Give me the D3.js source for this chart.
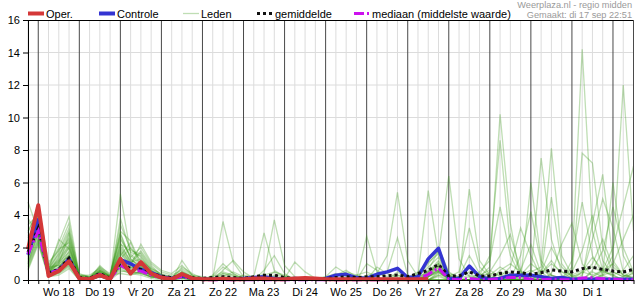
<!DOCTYPE html>
<html>
<head>
<meta charset="utf-8">
<script src="https://cdn.jsdelivr.net/npm/d3@7"></script>
<style>
body { margin: 0; background: #fff; }
svg { display: block; font-family: "Liberation Sans", Arial, sans-serif; }
</style>
</head>
<body>
<svg id="chart" width="635" height="300"></svg>
<script>
// 6-hourly values, from di 17 sep 18:00 to wo 2 okt 12:00 (60 steps)
const dayLabels = ["Wo 18","Do 19","Vr 20","Za 21","Zo 22","Ma 23","Di 24","Wo 25","Do 26","Vr 27","Za 28","Zo 29","Ma 30","Di 1"];
const yTicks = [0, 2, 4, 6, 8, 10, 12, 14, 16];

const oper = [1.9,4.6,0.25,0.55,1.15,0.1,0.05,0.3,0.05,1.3, 0.4,1.1,0.4,0.15,0.05,0.37,0.1,0.05,0.05,0.08,
	0.05,0.05,0.1,0.1,0.05,0.05,0.1,0.12,0.1,0.05, 0.05,0.05,0.05,0.05,0.05,0.05,0.05,0.05,0.05,0.05];

const controle = [1.55,3.7,0.4,0.6,1.3,0.1,0.05,0.3,0.05,1.25, 1.0,0.65,0.45,0.2,0.1,0.25,0.1,0.05,0.05,0.05,
	0.05,0.1,0.15,0.2,0.1,0.05,0.1,0.05,0.05,0.1, 0.3,0.35,0.15,0.1,0.35,0.5,0.72,0.15,0.2,1.3,
	1.95,0.1,0.1,0.86,0.2,0.05,0.1,0.3,0.3,0.3, 0.2,0.1,0.15,0.05,0.05,0.05,0.05,0.05,0.05,0.05];

const gemiddelde = [1.7,3.2,0.45,0.65,1.35,0.15,0.1,0.4,0.1,1.05, 0.7,0.65,0.4,0.25,0.15,0.25,0.15,0.1,0.15,0.2,
	0.15,0.1,0.2,0.3,0.3,0.15,0.1,0.1,0.1,0.1, 0.15,0.2,0.15,0.2,0.2,0.25,0.3,0.2,0.4,0.6,
	0.95,0.25,0.25,0.5,0.25,0.25,0.4,0.5,0.45,0.35, 0.45,0.62,0.55,0.5,0.7,0.78,0.65,0.55,0.5,0.65];

const mediaan = [1.6,3.0,0.4,0.6,1.1,0.1,0.05,0.35,0.05,0.9, 0.6,0.55,0.3,0.15,0.1,0.2,0.1,0.02,0.02,0.02,
	0.02,0.02,0.02,0.02,0.02,0.02,0.02,0.02,0.02,0.02, 0.02,0.02,0.02,0.02,0.02,0.02,0.05,0.02,0.05,0.35,
	0.75,0.05,0.02,0.1,0.02,0.02,0.1,0.15,0.15,0.05, 0.02,0.05,0.02,0.02,0.12,0.15,0.08,0.05,0.02,0.02];

// ensemble members (leden)
const leden = [
	[1.8,3.5,0.4,0.8,1.6,0.2,0.1,0.4,0.1,1.2,0.8,0.6,0.3,0.1,0.1,0.3,0.1, 0,0.1,3.6,1.1,0.2,0,0,0,0,0.1, 0,0,0,0,0,0,0.2,0.1,0,0.3, 0,0.2,0.8,1.4,0.3,0,0.2,0.1,0,0, 0,0.6,2.2,0.4,1.2,0.3,0,0,0.5,0.2, 0,0,0.1],
	[2.4,4.2,0.6,1.2,2.2,0.1,0.0,0.6,0.2,2.1,1.2,0.9,0.4,0.2,0.0,0.5,0.2, 0,0,0.6,1.2,0.5,0.1,0,0.3,0.2,0, 0,0,0,0,0.1,0.3,0.5,0.2,0,0.1, 0,0.4,1.2,2.0,0.5,0.1,0.3,0.2,0.8,10.2, 3.5,0,0,0.1,0.3,0.1,0,0,0.2,0.6, 1.0,0.3,0.2],
	[1.2,2.9,0.3,0.5,1.0,0.1,0.1,0.3,0.0,0.8,0.5,0.4,0.2,0.1,0.1,0.2,0.0, 0,0,0,0.1,0.3,0.2,2.9,0.6,0.2,0.1, 0,0,0,0.2,0.5,0.3,0.1,0,0,0, 0,0,0.4,0.9,0.2,0,0,0,0,0, 0,0.3,1.0,0.5,0,0,0.8,14.2,3.0,0.6, 0.2,0,0],
	[4.8,3.0,0.8,2.3,3.9,0.3,0.2,0.2,0.1,5.3,1.6,1.0,0.5,0.2,0.1,0.1,0.1, 0.1,0.2,0.5,0.3,0.1,0,0.4,3.7,0.9,0.2, 0,0,0,0,0,0,0,0.2,0.5,2.6, 0.3,0.1,0.6,1.8,0.4,0.2,0.5,0.3,1.5,8.6, 2.0,0.5,0.2,0.3,0,0,0.2,0.4,1.0,2.5, 0.8,0.3,0.1],
	[0.6,2.2,0.2,0.3,0.7,0.0,0.0,0.5,0.3,0.4,0.3,0.5,0.3,0.1,0.0,1.2,0.3, 0.2,0,0,0,0,0,0,0,0,0, 0,0.1,0.2,0.8,0.4,0,2.7,0.5,0.1,0, 0,0,0.2,0.7,0.1,0,0,0.3,0.6,0.2, 0,0,6.0,1.2,0.3,0,0,0.5,1.4,0.6, 0.3,0.6,1.5],
	[2.0,3.8,0.5,1.0,2.8,0.2,0.1,0.7,0.2,3.4,1.9,1.4,0.6,0.3,0.1,0.4,0.1, 0,0,0.3,0.1,0,0,0,0,0,0, 0,0,0,0,0,0,0.3,0.4,1.5,5.4, 1.2,0.2,0.5,1.0,0.3,0,0,0,0,0.5, 0.2,0,0.3,7.5,2.5,0.5,0.1,0,0,0.3, 0.5,0.2,0],
	[1.5,3.2,0.4,0.6,1.3,0.1,0.0,0.3,0.1,1.5,2.3,0.8,0.4,0.2,0.1,0.3,0.1, 0,0,0,0,0,0,0,0.2,0.1,1.1, 0.5,0.1,0,0,0,0,0,0,0,0, 0,0.3,5.5,1.5,0.2,0,0,0.2,0.4,0.3, 0.1,0,0.5,0.8,8.1,1.5,0.3,0,0,0.4, 1.5,12.0,3.0],
	[2.9,4.5,1.1,1.8,3.2,0.4,0.2,0.8,0.4,2.6,1.4,2.0,1.0,0.5,0.3,0.6,0.2, 0,0.1,0.4,0.2,0,0,0,0,0,0, 0,0,0,0,0,0,0,0,0,0.5, 0.1,0.5,1.1,1.6,6.4,1.3,0.2,0.1,0,0, 0,0.3,0.6,0.2,0,0,0.3,7.8,7.2,2.0, 0.5,0.2,0.4],
	[1.0,2.6,0.2,0.4,0.9,0.1,0.0,0.2,0.1,0.6,0.4,0.3,0.1,0.0,0.0,0.1,0.0, 0,0,0,0,0,0,0,0,0,0, 0,0,0.1,0.3,0.6,0.2,0,0,0,0.3, 0.2,0,0.3,0.6,0.2,0,5.6,1.2,0.3,0.1, 0,0.2,0,0.4,1.0,0.5,0.3,0.6,0.8,0.5, 6.0,1.5,0.3],
	[1.7,3.3,0.6,2.5,1.9,0.2,0.1,0.4,0.2,1.9,1.0,1.7,0.8,0.3,0.2,0.3,0.1, 0,0.2,0.8,0.4,0.1,0,0.6,1.5,0.4,0, 0,0,0,0,0,0,0,0,0,0, 0,0,0.2,0.5,0.1,0,0,0.5,1.2,4.5, 1.5,0.2,0,0.3,5.1,1.0,0.2,0.5,0.3,0.6, 2.0,4.5,7.0],
	[3.4,4.0,0.7,0.9,2.0,0.2,0.1,0.9,0.3,2.9,1.3,0.7,0.3,0.1,0.0,0.2,0.0, 0,0,0,0,0,0,0,0,0,0, 0,0,0,0,0.2,0.1,0,0,0,0, 0,0.1,0.5,1.2,0.4,0.2,1.5,0.4,0,0, 0,0,0.2,0.6,0.3,0.1,0,0.2,3.5,6.5, 1.2,0.3,0.1],
	[0.9,2.5,0.3,0.7,1.4,0.1,0.0,0.3,0.1,1.0,0.7,1.1,0.5,0.2,0.1,0.8,0.4, 0.1,0,0.2,0.5,0.2,0,0,0,0,0, 0,0,0,0,0,0,0,0.8,0.4,0.2, 0,0,0,0.3,0.2,0.5,3.2,0.8,0.2,0, 0,0.4,0.2,0,0.1,0,1.2,4.8,1.5,0.3, 0,0,0.5],
	[2.2,3.6,0.5,1.5,2.5,0.3,0.2,0.5,0.1,1.7,0.9,0.5,0.2,0.1,0.1,0.2,0.1, 0,0,0.4,0.3,0,0,0,0.5,0.3,0.1, 0,0,0,0,0,0,0,0,0,0, 0,0.2,1.0,1.8,0.3,0,0,0,0,0.2, 0.8,3.2,1.5,0.2,0,0,0,0,0.6,1.8, 4.5,2.0,0.5],
	[1.4,3.0,0.4,1.1,1.7,0.1,0.1,0.6,0.2,1.3,2.0,1.2,0.7,0.4,0.2,0.3,0.2, 0,0,0,0,0,0,0,0,0,0, 0,0,0,0,0,0,0,0,0,0, 0,0,0.3,0.8,0.2,0,0,0,0,0, 0,0,0,0,0,0,0,0,0,0, 0,0,0],
	[2.6,3.9,0.9,2.0,3.5,0.2,0.1,0.4,0.1,3.8,1.7,1.5,0.6,0.2,0.1,0.4,0.2, 0,0,0,0,0,0,0,0,0,0, 0,0,0,0,0,0,0,0,0,0, 0,0,0,0.2,0,0,0,0,0,0, 0,0,0,0,0,0,0,0,0,0, 0,0,0],
	[1.1,2.8,0.2,0.5,1.1,0.0,0.0,0.2,0.0,0.5,0.6,0.4,0.2,0.1,0.0,0.1,0.0, 0,0,0.2,0,0,0,0.3,0.5,0.2,0, 0,0,0,0,0,0,0,0,0,0, 0,0,0.5,1.0,0.2,0,0,0,0,0, 0,0,0,0,0,0,0,0,0.2,0.5, 0.3,0,0],
	[1.9,3.4,0.6,1.3,2.4,0.2,0.1,0.5,0.2,2.3,1.1,1.8,0.9,0.3,0.1,0.7,0.3, 0,0,0,0,0,0,0,0,0,0, 0,0,0,0,0,0,1.0,0.6,0.2,0, 0,0,0,0.4,0.2,0,0,0,0,0.6, 1.0,0.5,0,0,0,0,0,0.3,2.5,5.0, 3.2,0.5,0],
	[3.0,4.3,0.5,0.8,1.5,0.1,0.0,0.4,0.1,1.1,0.6,0.6,0.3,0.1,0.0,0.2,0.1, 0,0,0,0,0,0,0,0,0,0, 0,0,0,0,0,0,0,0,0,0, 0,0,0.2,0.6,0.1,0,0,0,0.3,0.8, 0.4,0,0,0,0,0,0,0,0,0, 0,0,0],
	[0.8,2.4,0.3,0.6,1.2,0.1,0.1,0.3,0.1,0.9,0.5,0.8,0.4,0.2,0.1,0.3,0.1, 0,0.3,1.0,0.4,0,0,0,0,0,0, 0,0,0,0,0,0,0,0,0,0, 0,0,0,0,0,0,0,0,0,0, 0,0,0,0,0.4,2.2,3.5,1.0,0.2,0, 0,0,0],
	[2.3,3.7,0.7,1.6,2.6,0.3,0.3,0.7,0.3,2.5,1.5,0.9,0.5,0.2,0.1,0.5,0.2, 0,0,0,0,0,0,0,0,0,0, 0,0,0,0,0,0,0,0,0,0, 0,0,0.3,1.1,0.2,0,0,0,0,0, 0,0,0,0,0,0,0,0,0,0, 0,0.2,0.6],
	[1.6,3.1,0.3,0.7,1.8,0.1,0.0,0.4,0.1,1.4,0.8,0.7,0.3,0.1,0.0,0.2,0.1, 0,0,0,0,0,0,0,0,0,0, 0,0,0,0,0,0,0,0,0,0, 0,0,0,0,0,0,0,0,0,0, 0,0,0,0,0,0,0,0,0,0, 0,0,0],
	[3.8,2.7,0.4,1.4,2.9,0.2,0.1,0.3,0.1,2.0,1.1,1.3,0.6,0.2,0.1,0.3,0.1, 0,0,0,0,0,0,0,0,0,0, 0,0,0.2,0.4,0.1,0,0,0,0,0, 0,0,0.2,0.6,0,0,0,0,0,0, 0,0,0,0,0,0,0,0,0,0, 0,0,0],
	[1.3,3.5,0.8,0.9,1.0,0.1,0.1,0.6,0.2,3.0,2.4,1.0,0.4,0.2,0.1,0.4,0.2, 0,0,0,0,0,0,0,0,0,0, 0,0,0,0,0,0,0,0,0,0, 0,0,0,0.3,0,0,0,0,0.5,1.5, 2.8,0.6,0,0,0,0,0,0,0,0, 0,0,0],
	[2.1,4.1,0.5,1.2,2.1,0.2,0.1,0.5,0.2,1.6,0.9,2.2,1.1,0.6,0.4,0.9,0.3, 0,0,0,0,0,0,0,0,0,0, 0,0,0,0,0,0,0,0,0,0, 0,0,0,0.5,0.1,0,0,0,0,0, 0,0,0,0,0,0,0,0,0,0, 0,0,0],
	[1.0,2.9,0.3,0.4,0.8,0.0,0.0,0.2,0.1,0.7,0.4,0.5,0.2,0.1,0.0,0.1,0.0, 0,0,0,0,0,0,0,0,0,0, 0,0,0,0,0,0,0,0,0,0, 0,0,0,0,0,0,0,0,0,0, 0,0,0,0,0,0,0.5,1.8,4.0,1.2, 0.3,0,0],
	[2.7,3.3,0.6,1.7,3.0,0.3,0.2,0.6,0.2,2.8,1.3,0.8,0.4,0.2,0.1,0.3,0.1, 0,0,0,0,0,0,0,0,0,0, 0,0,0,0,0,0,0,0,0,0, 0,0,0.4,0.9,0.2,0,0,0,0,0, 0,0,0,0,0,0,0,0,0,0, 0,0,0],
	[1.5,3.0,0.4,1.0,1.5,0.1,0.1,0.4,0.1,1.3,0.7,0.6,0.3,0.1,0.1,0.2,0.1, 0,0,0,0,0,0,0,0,0,0, 0,0,0,0,0,0,0,0,0,0, 0,0,0,0,0,0,0,0,0,0, 0,1.5,4.2,1.0,0,0,0,0,0,0, 0,0,0],
	[2.0,3.9,0.7,1.9,2.3,0.2,0.1,0.8,0.2,2.2,1.8,1.6,0.7,0.3,0.2,0.5,0.2, 0,0,0,0,0,0,0,0,0,0, 0,0,0,0,0,0,0,0,0,0, 0,0,0.2,0.5,0,0,0,0,0,0, 0,0,0,0,0,0,0,0,0,0.3, 1.0,2.5,4.0],
	[0.7,2.3,0.2,0.5,0.9,0.1,0.0,0.3,0.1,0.8,0.5,0.4,0.2,0.1,0.0,0.2,0.0, 0,0,0,0,0,0,0,0,0,0, 0,0,0,0,0,0,0,0,0,0, 0,0,0,0,0,0,0,0,0,0, 0,0,0,0,0,0,0,0,0,0, 0,0,0],
	[1.8,3.6,0.5,1.1,2.0,0.2,0.1,0.5,0.1,1.8,1.0,0.9,0.4,0.2,0.1,0.3,0.1, 0,0,0,0,0,0,0,0,0,0, 0,0,0,0,0,0,0,0,0,0, 0,0,0.3,0.8,0.1,0,0,0,0,0, 0,0,0,0.5,2.0,0.8,0.2,0,0,0, 0,0,0]
];

const margin = {top: 20, right: 2, bottom: 20, left: 28};
const width = 635, height = 300;
const font = '"Liberation Sans", Arial, sans-serif';

const start = Date.UTC(2024, 8, 17, 18);
const times = d3.range(60).map(i => new Date(start + i * 6 * 3600e3));

const x = d3.scaleUtc()
	.domain([times[0], times[59]])
	.range([margin.left, 633.5]);

const y = d3.scaleLinear()
	.domain([0, 16])
	.range([height - margin.bottom, margin.top]);

const svg = d3.select('#chart');

// grid
const grid = svg.append('g');
const sixHours = x.ticks(d3.utcHour.every(6));
grid.selectAll('.vg')
	.data(sixHours.filter(d => d.getUTCHours() != 0))
	.join('line')
		.attr('x1', d => x(d)).attr('x2', d => x(d))
		.attr('y1', y(16)).attr('y2', y(0))
		.attr('stroke', '#dcdcdc');
grid.selectAll('.hg')
	.data(yTicks.slice(1, -1))
	.join('line')
		.attr('x1', margin.left).attr('x2', 633.5)
		.attr('y1', d => y(d)).attr('y2', d => y(d))
		.attr('stroke', '#dcdcdc');
grid.selectAll('.dg')
	.data(sixHours.filter(d => d.getUTCHours() == 0))
	.join('line')
		.attr('x1', d => x(d)).attr('x2', d => x(d))
		.attr('y1', y(16)).attr('y2', y(0))
		.attr('stroke', '#4a4a4a');

// lines
const line = d3.line()
	.x((d, i) => x(times[i]))
	.y(d => y(d));

svg.append('g')
	.selectAll('path')
	.data(leden)
	.join('path')
		.attr('d', line)
		.attr('fill', 'none')
		.attr('stroke', '#3e9a1c')
		.attr('stroke-opacity', 0.33)
		.attr('stroke-width', 1.3);

svg.append('path').attr('d', line(controle))
	.attr('fill', 'none').attr('stroke', '#3434d2').attr('stroke-width', 3.5).attr('stroke-linejoin', 'round');
svg.append('path').attr('d', line(gemiddelde))
	.attr('fill', 'none').attr('stroke', '#111').attr('stroke-width', 3).attr('stroke-dasharray', '3,3');
svg.append('path').attr('d', line(mediaan))
	.attr('fill', 'none').attr('stroke', '#cc11ee').attr('stroke-width', 3).attr('stroke-dasharray', '10,3,2,3');
svg.append('path').attr('d', line(oper))
	.attr('fill', 'none').attr('stroke', '#d43838').attr('stroke-width', 4).attr('stroke-linejoin', 'round');

// frame
svg.append('line').attr('x1', margin.left).attr('x2', 633.5).attr('y1', 20.5).attr('y2', 20.5).attr('stroke', '#000');
svg.append('line').attr('x1', 633.5).attr('x2', 633.5).attr('y1', 20).attr('y2', 280).attr('stroke', '#4a4a4a');

// axes
svg.append('g')
	.attr('transform', 'translate(' + margin.left + ',0)')
	.call(d3.axisLeft(y).tickValues(yTicks).tickSize(5).tickSizeOuter(0))
	.call(g => g.selectAll('text').attr('font-size', 11).attr('font-family', font).attr('fill', '#000'));

svg.append('g')
	.attr('transform', 'translate(0,' + (height - margin.bottom) + ')')
	.call(d3.axisBottom(x).ticks(d3.utcHour.every(6)).tickSize(4).tickSizeOuter(0).tickFormat(''));

svg.append('g')
	.selectAll('text')
	.data(dayLabels)
	.join('text')
		.attr('x', (d, i) => x(new Date(Date.UTC(2024, 8, 18 + i, 12))))
		.attr('y', 295.5)
		.attr('text-anchor', 'middle')
		.attr('font-size', 11)
		.attr('font-family', font)
		.text(d => d);

// legend
const legend = [
	{name: 'Oper.', x: 28, color: '#d43838', w: 4, dash: null, op: 1},
	{name: 'Controle', x: 99, color: '#3434d2', w: 4, dash: null, op: 1},
	{name: 'Leden', x: 183, color: '#3e9a1c', w: 1.3, dash: null, op: 0.33},
	{name: 'gemiddelde', x: 257, color: '#111', w: 3, dash: '3,3', op: 1},
	{name: 'mediaan (middelste waarde)', x: 354, color: '#cc11ee', w: 3, dash: '10,3,2,3', op: 1}
];
const lg = svg.append('g').selectAll('g').data(legend).join('g');
lg.append('line')
	.attr('x1', d => d.x).attr('x2', d => d.x + 16)
	.attr('y1', 13.5).attr('y2', 13.5)
	.attr('stroke', d => d.color)
	.attr('stroke-width', d => d.w)
	.attr('stroke-opacity', d => d.op)
	.attr('stroke-dasharray', d => d.dash);
lg.append('text')
	.attr('x', d => d.x + 18)
	.attr('y', 17.5)
	.attr('font-size', 11)
	.attr('font-family', font)
	.text(d => d.name);

svg.append('text')
	.attr('x', 632).attr('y', 7.5)
	.attr('text-anchor', 'end')
	.attr('font-size', 9.2).attr('font-family', font).attr('fill', '#9a9a9a')
	.text('Weerplaza.nl - regio midden');
svg.append('text')
	.attr('x', 632).attr('y', 17.5)
	.attr('text-anchor', 'end')
	.attr('font-size', 9.2).attr('font-family', font).attr('fill', '#9a9a9a')
	.text('Gemaakt: di 17 sep 22:51');
</script>
</body>
</html>
